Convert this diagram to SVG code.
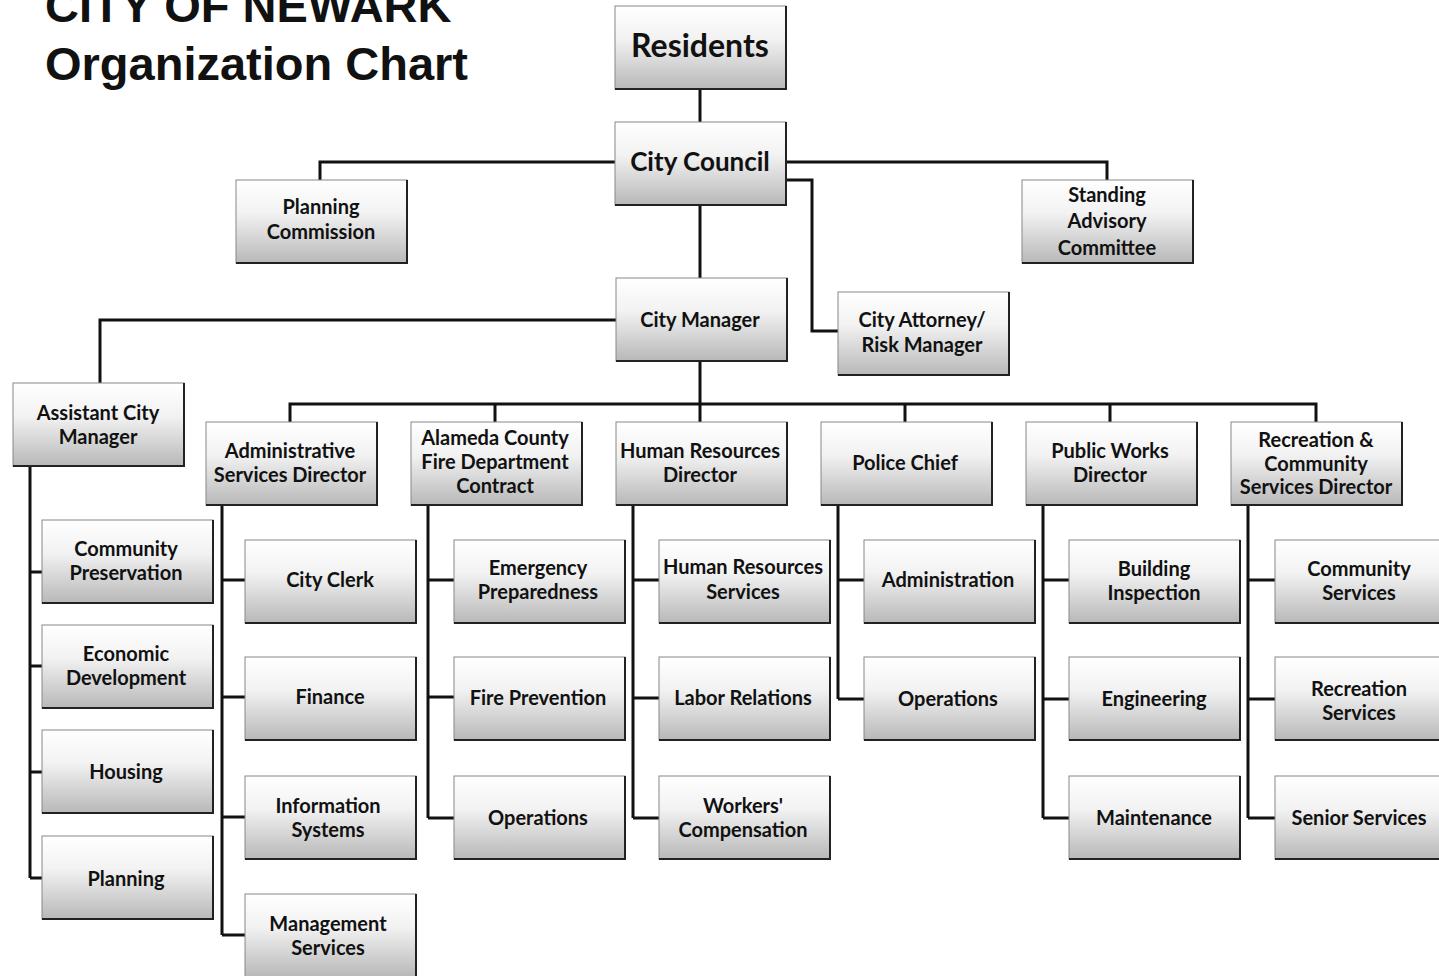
<svg xmlns="http://www.w3.org/2000/svg" xmlns:xlink="http://www.w3.org/1999/xlink" width="1439" height="976" viewBox="0 0 1439 976">
<style>
.t{font-family:Lato,"Open Sans","Liberation Sans",sans-serif;font-weight:700;fill:#111;text-anchor:middle;font-size:20px}
.big{font-size:26px}
.res{font-size:32px}
.title{font-family:"Liberation Sans",Arial,sans-serif;font-weight:700;font-size:47px;fill:#111}
.c{fill:none;stroke:#111;stroke-width:3}
</style>
<defs>
<linearGradient id="g" x1="0" y1="0" x2="0" y2="1">
<stop offset="0" stop-color="#ffffff"/>
<stop offset="0.4" stop-color="#f2f2f2"/>
<stop offset="1" stop-color="#b8b8b8"/>
</linearGradient>
<g id="box"><rect width="171" height="83" fill="url(#g)" stroke="#888" stroke-width="1"/><path d="M0,83 H171 V0" fill="none" stroke="#222" stroke-width="2"/></g>
</defs>
<rect width="1439" height="976" fill="#fff"/>
<text class="title" x="45" y="22">CITY OF NEWARK</text>
<text class="title" x="45" y="80">Organization Chart</text>

<g id="connectors">
<path class="c" d="M700,90 V122"/>
<path class="c" d="M615,162 H320 V180"/>
<path class="c" d="M787,162 H1107 V180"/>
<path class="c" d="M787,180 H812 V331 H838"/>
<path class="c" d="M700,204 V278"/>
<path class="c" d="M616,320 H100 V383"/>
<path class="c" d="M700,360 V404"/>
<path class="c" d="M290,422 V404 H1316 V422"/>
<path class="c" d="M495,404 V422 M700,404 V422 M905,404 V422 M1110,404 V422"/>
<path class="c" d="M30,466 V878 M30,572 H42 M30,666 H42 M30,772 H42 M30,878 H42"/>
<path class="c" d="M222,505 V935 M222,580 H245 M222,697 H245 M222,817 H245 M222,935 H245"/>
<path class="c" d="M428,505 V818 M428,580 H454 M428,697 H454 M428,818 H454"/>
<path class="c" d="M633,505 V818 M633,580 H659 M633,698 H659 M633,818 H659"/>
<path class="c" d="M838,505 V699 M838,580 H864 M838,699 H864"/>
<path class="c" d="M1043,505 V818 M1043,580 H1069 M1043,699 H1069 M1043,818 H1069"/>
<path class="c" d="M1248,505 V818 M1248,580 H1275 M1248,699 H1275 M1248,818 H1275"/>
</g>

<g id="residents"><use href="#box" x="615" y="6"/><text class="t res" x="700" y="57">Residents</text></g>
<g id="city-council"><use href="#box" x="615" y="122"/><text class="t big" x="700" y="171">City Council</text></g>
<g id="planning-commission"><use href="#box" x="236" y="180"/><text class="t" x="321" y="214">Planning</text><text class="t" x="321" y="239">Commission</text></g>
<g id="standing-advisory"><use href="#box" x="1022" y="180"/><text class="t" x="1107" y="202">Standing</text><text class="t" x="1107" y="228">Advisory</text><text class="t" x="1107" y="255">Committee</text></g>
<g id="city-attorney"><use href="#box" x="838" y="292"/><text class="t" x="922" y="327">City Attorney/</text><text class="t" x="922" y="352">Risk Manager</text></g>
<g id="city-manager"><use href="#box" x="616" y="278"/><text class="t" x="700" y="327">City Manager</text></g>
<g id="assistant-city-manager"><use href="#box" x="13" y="383"/><text class="t" x="98" y="420">Assistant City</text><text class="t" x="98" y="444">Manager</text></g>

<g id="admin-services"><use href="#box" x="206" y="422"/><text class="t" x="290" y="458">Administrative</text><text class="t" x="290" y="482">Services Director</text></g>
<g id="fire-dept"><use href="#box" x="411" y="422"/><text class="t" x="495" y="445">Alameda County</text><text class="t" x="495" y="469">Fire Department</text><text class="t" x="495" y="493">Contract</text></g>
<g id="hr-director"><use href="#box" x="616" y="422"/><text class="t" x="700" y="458">Human Resources</text><text class="t" x="700" y="482">Director</text></g>
<g id="police-chief"><use href="#box" x="821" y="422"/><text class="t" x="905" y="470">Police Chief</text></g>
<g id="public-works"><use href="#box" x="1026" y="422"/><text class="t" x="1110" y="458">Public Works</text><text class="t" x="1110" y="482">Director</text></g>
<g id="recreation-director"><use href="#box" x="1231" y="422"/><text class="t" x="1316" y="447">Recreation &amp;</text><text class="t" x="1316" y="471">Community</text><text class="t" x="1316" y="494">Services Director</text></g>

<g id="community-preservation"><use href="#box" x="42" y="520"/><text class="t" x="126" y="556">Community</text><text class="t" x="126" y="580">Preservation</text></g>
<g id="economic-development"><use href="#box" x="42" y="625"/><text class="t" x="126" y="661">Economic</text><text class="t" x="126" y="685">Development</text></g>
<g id="housing"><use href="#box" x="42" y="730"/><text class="t" x="126" y="779">Housing</text></g>
<g id="planning"><use href="#box" x="42" y="836"/><text class="t" x="126" y="886">Planning</text></g>

<g id="city-clerk"><use href="#box" x="245" y="540"/><text class="t" x="330" y="587">City Clerk</text></g>
<g id="finance"><use href="#box" x="245" y="657"/><text class="t" x="330" y="704">Finance</text></g>
<g id="information-systems"><use href="#box" x="245" y="776"/><text class="t" x="328" y="813">Information</text><text class="t" x="328" y="837">Systems</text></g>
<g id="management-services"><use href="#box" x="245" y="894"/><text class="t" x="328" y="931">Management</text><text class="t" x="328" y="955">Services</text></g>

<g id="emergency-preparedness"><use href="#box" x="454" y="540"/><text class="t" x="538" y="575">Emergency</text><text class="t" x="538" y="599">Preparedness</text></g>
<g id="fire-prevention"><use href="#box" x="454" y="657"/><text class="t" x="538" y="705">Fire Prevention</text></g>
<g id="fire-operations"><use href="#box" x="454" y="776"/><text class="t" x="538" y="825">Operations</text></g>

<g id="hr-services"><use href="#box" x="659" y="540"/><text class="t" x="743" y="574">Human Resources</text><text class="t" x="743" y="599">Services</text></g>
<g id="labor-relations"><use href="#box" x="659" y="657"/><text class="t" x="743" y="705">Labor Relations</text></g>
<g id="workers-comp"><use href="#box" x="659" y="776"/><text class="t" x="743" y="813">Workers'</text><text class="t" x="743" y="837">Compensation</text></g>

<g id="police-administration"><use href="#box" x="864" y="540"/><text class="t" x="948" y="587">Administration</text></g>
<g id="police-operations"><use href="#box" x="864" y="657"/><text class="t" x="948" y="706">Operations</text></g>

<g id="building-inspection"><use href="#box" x="1069" y="540"/><text class="t" x="1154" y="576">Building</text><text class="t" x="1154" y="600">Inspection</text></g>
<g id="engineering"><use href="#box" x="1069" y="657"/><text class="t" x="1154" y="706">Engineering</text></g>
<g id="maintenance"><use href="#box" x="1069" y="776"/><text class="t" x="1154" y="825">Maintenance</text></g>

<g id="community-services"><use href="#box" x="1275" y="540"/><text class="t" x="1359" y="576">Community</text><text class="t" x="1359" y="600">Services</text></g>
<g id="recreation-services"><use href="#box" x="1275" y="657"/><text class="t" x="1359" y="696">Recreation</text><text class="t" x="1359" y="720">Services</text></g>
<g id="senior-services"><use href="#box" x="1275" y="776"/><text class="t" x="1359" y="825">Senior Services</text></g>
</svg>
